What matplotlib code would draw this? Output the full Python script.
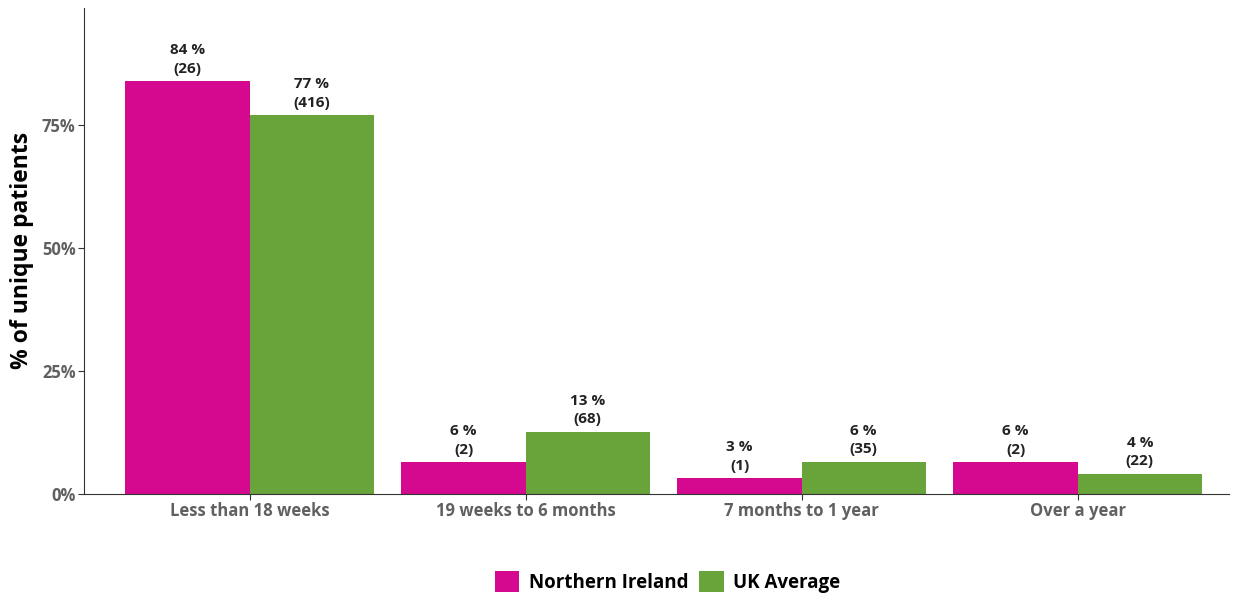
import matplotlib.pyplot as plt
import numpy as np

plt.rcParams['font.family'] = ['Open Sans', 'DejaVu Sans']

categories = ['Less than 18 weeks', '19 weeks to 6 months', '7 months to 1 year', 'Over a year']
ni_pct = [83.9, 6.45, 3.2, 6.45]
ni_count = [26, 2, 1, 2]
uk_pct = [77.0, 12.6, 6.5, 4.1]
uk_count = [416, 68, 35, 22]
ni_labels = ['84 %', '6 %', '3 %', '6 %']
uk_labels = ['77 %', '13 %', '6 %', '4 %']

pink = '#d4098f'
green = '#69a43b'

fig = plt.figure(figsize=(12.41, 5.95), dpi=100)
ax = fig.add_axes([0.0677, 0.170, 0.923, 0.8166])

x = np.arange(len(categories))
w = 0.45
b1 = ax.bar(x - w / 2, ni_pct, w, color=pink, label='Northern Ireland')
b2 = ax.bar(x + w / 2, uk_pct, w, color=green, label='UK Average')

for bars, pcts, counts, labs in [(b1, ni_pct, ni_count, ni_labels), (b2, uk_pct, uk_count, uk_labels)]:
    for bar, p, c, l in zip(bars, pcts, counts, labs):
        ax.annotate(f'{l}\n({c})', (bar.get_x() + bar.get_width() / 2, p),
                    xytext=(0, 4), textcoords='offset points',
                    ha='center', va='bottom', fontsize=11, fontweight='bold',
                    color='#222222', linespacing=1.4)

ax.set_xlim(-0.6, 3.55)
ax.set_ylim(0, 98.8)
ax.set_yticks([0, 25, 50, 75])
ax.set_yticklabels(['0%', '25%', '50%', '75%'])
ax.set_xticks(x)
ax.set_xticklabels(categories)
for lab in ax.get_xticklabels() + ax.get_yticklabels():
    lab.set_fontweight('bold')
    lab.set_color('#606060')
    lab.set_fontsize(12)
ax.tick_params(length=4, color='#333333', pad=2)
ax.set_ylabel('% of unique patients', fontsize=16.5, fontweight='bold', labelpad=6)

ax.spines['top'].set_visible(False)
ax.spines['right'].set_visible(False)
ax.spines['left'].set_color('#333333')
ax.spines['bottom'].set_color('#333333')

fig.legend(handles=[b1, b2], loc='center', bbox_to_anchor=(0.538, 0.022),
           ncol=2, frameon=False, prop={'weight': 'bold', 'size': 13.5},
           handlelength=1.3, handleheight=1.3, handletextpad=0.5, columnspacing=0.6)

fig.savefig('out.png', dpi=100)
